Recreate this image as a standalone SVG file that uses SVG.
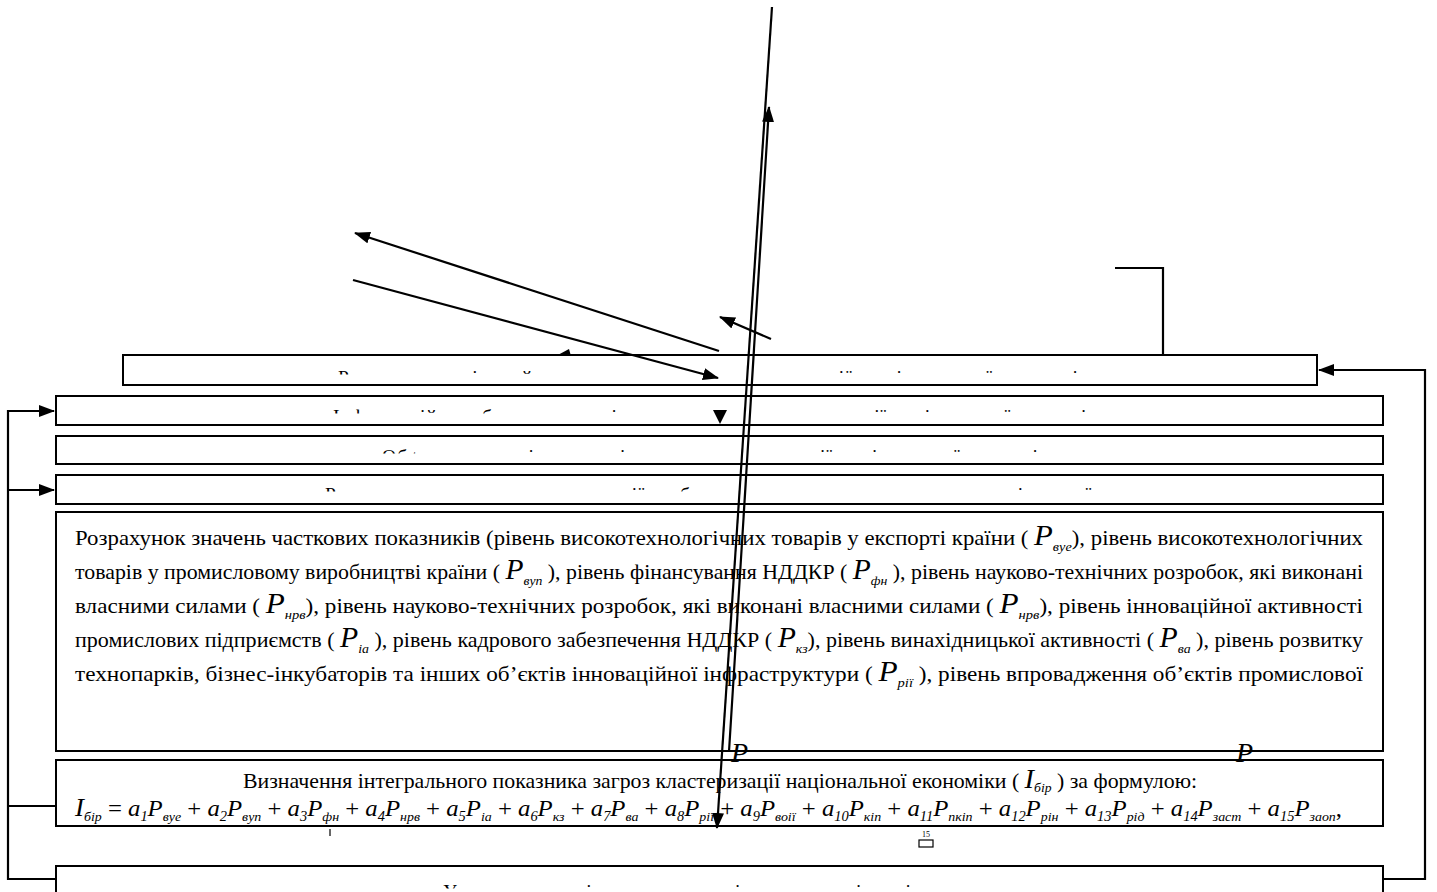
<svg xmlns="http://www.w3.org/2000/svg" width="1437" height="892" viewBox="0 0 1437 892">
<style>
.box{fill:#fff;stroke:#000;stroke-width:2}
.conn{fill:none;stroke:#000;stroke-width:2.2}
.t{font-family:"Liberation Serif","Times New Roman",serif;font-size:19.5px;fill:#000}
.b{font-size:21.5px}
.f{font-size:24px;font-style:italic}
.i{font-style:italic}
.P{font-style:italic;font-size:29px}
.s{font-style:italic;font-size:13.5px}
.op{font-style:normal}
.sn{font-size:14px}
.pg{font-size:8px}
.bigP{font-size:28px;font-style:italic}
</style>
<defs>
<marker id="ah" markerUnits="userSpaceOnUse" markerWidth="16" markerHeight="12" refX="15" refY="6" orient="auto"><path d="M0,0 L16,6 L0,12 z" fill="#000"/></marker>
<clipPath id="c1"><rect x="124" y="356" width="1192" height="18.4"/></clipPath>
<clipPath id="c2"><rect x="57" y="397" width="1325" height="16.4"/></clipPath>
<clipPath id="c3"><rect x="57" y="437" width="1325" height="16.4"/></clipPath>
<clipPath id="c4"><rect x="57" y="476" width="1325" height="15.4"/></clipPath>
<clipPath id="c5"><rect x="57" y="867" width="1325" height="21.4"/></clipPath>
</defs>

<g id="node-step1">
<rect class="box" x="123" y="355" width="1194" height="30"/>
<text class="t" x="338" y="384" textLength="764" lengthAdjust="spacing" clip-path="url(#c1)">Розрахунок рівня й величини загроз кластеризації національної економіки</text>
</g>
<g id="node-step2">
<rect class="box" x="56" y="396" width="1327" height="29"/>
<text class="t" x="333" y="423" textLength="775" lengthAdjust="spacing" clip-path="url(#c2)">Інформаційне забезпечення оцінювання загроз кластеризації національної економіки</text>
</g>
<g id="node-step3">
<rect class="box" x="56" y="436" width="1327" height="28"/>
<text class="t" x="382" y="463" textLength="678" lengthAdjust="spacing" clip-path="url(#c3)">Обґрунтування індикаторів загроз кластеризації національної економіки</text>
</g>
<g id="node-step4">
<rect class="box" x="56" y="475" width="1327" height="29"/>
<text class="t" x="325" y="501" textLength="790" lengthAdjust="spacing" clip-path="url(#c4)">Розрахунок ступеня концентрації в обраних секторах та галузях економіки країни</text>
</g>
<g id="node-step5">
<rect class="box" x="56" y="512" width="1327" height="239"/>
<text class="t b" x="75" y="545" textLength="1288" lengthAdjust="spacingAndGlyphs">Розрахунок значень часткових показників (рівень високотехнологічних товарів у експорті країни ( <tspan class="P">P</tspan><tspan class="s" dy="6">вуе</tspan><tspan dy="-6">), рівень високотехнологічних</tspan></text>
<text class="t b" x="75" y="579" textLength="1288" lengthAdjust="spacingAndGlyphs">товарів у промисловому виробництві країни ( <tspan class="P">P</tspan><tspan class="s" dy="6">вуп</tspan><tspan dy="-6"> ), рівень фінансування НДДКР ( </tspan><tspan class="P">P</tspan><tspan class="s" dy="6">фн</tspan><tspan dy="-6"> ), рівень науково-технічних розробок, які виконані</tspan></text>
<text class="t b" x="75" y="613" textLength="1288" lengthAdjust="spacingAndGlyphs">власними силами ( <tspan class="P">P</tspan><tspan class="s" dy="6">нрв</tspan><tspan dy="-6">), рівень науково-технічних розробок, які виконані власними силами ( </tspan><tspan class="P">P</tspan><tspan class="s" dy="6">нрв</tspan><tspan dy="-6">), рівень інноваційної активності</tspan></text>
<text class="t b" x="75" y="647" textLength="1288" lengthAdjust="spacingAndGlyphs">промислових підприємств ( <tspan class="P">P</tspan><tspan class="s" dy="6">іа</tspan><tspan dy="-6"> ), рівень кадрового забезпечення НДДКР ( </tspan><tspan class="P">P</tspan><tspan class="s" dy="6">кз</tspan><tspan dy="-6">), рівень винахідницької активності ( </tspan><tspan class="P" font-size="25">P</tspan><tspan class="s" dy="6">ва</tspan><tspan dy="-6"> ), рівень розвитку</tspan></text>
<text class="t b" x="75" y="681" textLength="1288" lengthAdjust="spacingAndGlyphs">технопарків, бізнес-інкубаторів та інших об’єктів інноваційної інфраструктури ( <tspan class="P">P</tspan><tspan class="s" dy="6">рії</tspan><tspan dy="-6"> ), рівень впровадження об’єктів промислової</tspan></text>
</g>
<g id="node-step6">
<rect class="box" x="56" y="760" width="1327" height="66"/>
<text class="t b" x="243" y="788" textLength="954" lengthAdjust="spacingAndGlyphs">Визначення інтегрального показника загроз кластеризації національної економіки ( <tspan class="i" font-size="28">I</tspan><tspan class="s" dy="4">бір</tspan><tspan dy="-4"> ) за формулою:</tspan></text>
<text class="t f" x="75" y="816" textLength="1267" lengthAdjust="spacingAndGlyphs"><tspan font-size="26">I</tspan><tspan class="s" dy="5">бір</tspan><tspan class="op" dy="-5"> = </tspan>a<tspan class="sn" dy="5">1</tspan><tspan dy="-5">P</tspan><tspan class="s" dy="5">вуе</tspan><tspan class="op" dy="-5"> + </tspan>a<tspan class="sn" dy="5">2</tspan><tspan dy="-5">P</tspan><tspan class="s" dy="5">вуп</tspan><tspan class="op" dy="-5"> + </tspan>a<tspan class="sn" dy="5">3</tspan><tspan dy="-5">P</tspan><tspan class="s" dy="5">фн</tspan><tspan class="op" dy="-5"> + </tspan>a<tspan class="sn" dy="5">4</tspan><tspan dy="-5">P</tspan><tspan class="s" dy="5">нрв</tspan><tspan class="op" dy="-5"> + </tspan>a<tspan class="sn" dy="5">5</tspan><tspan dy="-5">P</tspan><tspan class="s" dy="5">іа</tspan><tspan class="op" dy="-5"> + </tspan>a<tspan class="sn" dy="5">6</tspan><tspan dy="-5">P</tspan><tspan class="s" dy="5">кз</tspan><tspan class="op" dy="-5"> + </tspan>a<tspan class="sn" dy="5">7</tspan><tspan dy="-5">P</tspan><tspan class="s" dy="5">ва</tspan><tspan class="op" dy="-5"> + </tspan>a<tspan class="sn" dy="5">8</tspan><tspan dy="-5">P</tspan><tspan class="s" dy="5">рії</tspan><tspan class="op" dy="-5"> + </tspan>a<tspan class="sn" dy="5">9</tspan><tspan dy="-5">P</tspan><tspan class="s" dy="5">воії</tspan><tspan class="op" dy="-5"> + </tspan>a<tspan class="sn" dy="5">10</tspan><tspan dy="-5">P</tspan><tspan class="s" dy="5">кіп</tspan><tspan class="op" dy="-5"> + </tspan>a<tspan class="sn" dy="5">11</tspan><tspan dy="-5">P</tspan><tspan class="s" dy="5">пкіп</tspan><tspan class="op" dy="-5"> + </tspan>a<tspan class="sn" dy="5">12</tspan><tspan dy="-5">P</tspan><tspan class="s" dy="5">рін</tspan><tspan class="op" dy="-5"> + </tspan>a<tspan class="sn" dy="5">13</tspan><tspan dy="-5">P</tspan><tspan class="s" dy="5">рід</tspan><tspan class="op" dy="-5"> + </tspan>a<tspan class="sn" dy="5">14</tspan><tspan dy="-5">P</tspan><tspan class="s" dy="5">заст</tspan><tspan class="op" dy="-5"> + </tspan>a<tspan class="sn" dy="5">15</tspan><tspan dy="-5">P</tspan><tspan class="s" dy="5">заоп</tspan><tspan class="op" dy="-5">,</tspan></text>
</g>
<g id="node-step7">
<rect class="box" x="56" y="866" width="1327" height="40"/>
<text class="t" x="443" y="898" textLength="554" lengthAdjust="spacing" clip-path="url(#c5)">Узагальнення і систематизація результатів оцінювання</text>
</g>

<g id="fragments">
<text class="t bigP" x="731" y="762">P</text>
<text class="t bigP" x="1236" y="762">P</text>
<line x1="330" y1="829" x2="330" y2="836" stroke="#000" stroke-width="1.2"/>
<text class="t pg" x="922" y="837">15</text>
<rect x="919" y="840" width="14" height="7" fill="none" stroke="#000" stroke-width="1.2"/>
</g>

<g id="connectors">
<polyline class="conn" points="56,879 8,879 8,411 54,411" marker-end="url(#ah)"/>
<line class="conn" x1="8" y1="490" x2="54" y2="490" marker-end="url(#ah)"/>
<line class="conn" x1="8" y1="806" x2="56" y2="806"/>
<polyline class="conn" points="1383,879 1425,879 1425,370 1319,370" marker-end="url(#ah)"/>
<polyline class="conn" points="1115,268 1163,268 1163,355"/>
<line class="conn" x1="772" y1="7" x2="717" y2="828" marker-end="url(#ah)"/>
<line class="conn" x1="729" y1="752" x2="769" y2="107" marker-end="url(#ah)"/>
<line class="conn" x1="719" y1="351" x2="355" y2="233" marker-end="url(#ah)"/>
<line class="conn" x1="353" y1="280" x2="718" y2="378" marker-end="url(#ah)"/>
<line class="conn" x1="771" y1="339" x2="720" y2="317" marker-end="url(#ah)"/>
<polygon points="556,356 569,349 571,356" fill="#000"/>
<polygon points="713,410 727,410 720,424" fill="#000"/>
</g>
</svg>
